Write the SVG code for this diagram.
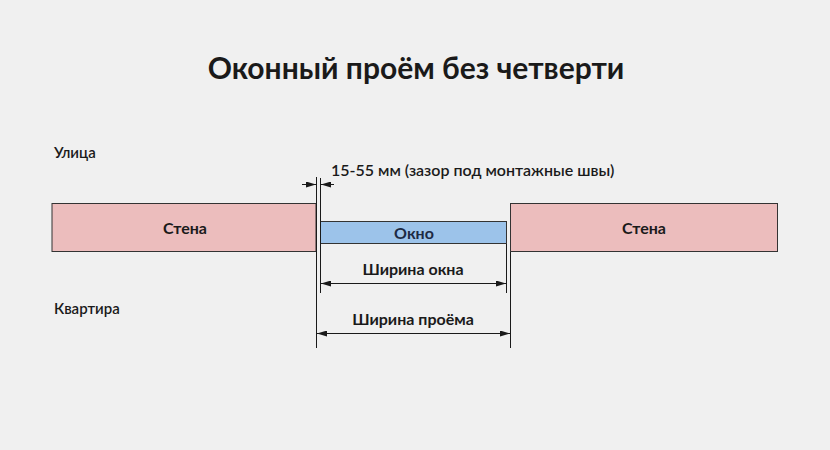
<svg xmlns="http://www.w3.org/2000/svg" width="830" height="450" viewBox="0 0 830 450">
<style>
text{font-family:Lato,"Noto Sans",sans-serif;fill:#1a1a1a}
.l{font-size:15px;font-weight:600}
.b{font-size:16px;font-weight:bold;text-anchor:middle}
.wall{fill:#ecbdbd;stroke:#333;stroke-width:1}
.ln{stroke:#1a1a1a;stroke-width:1;fill:none}
</style>
<defs>
<marker id="a" viewBox="0 0 10 6" refX="10" refY="3" markerWidth="10" markerHeight="6" markerUnits="userSpaceOnUse" orient="auto-start-reverse"><path d="M0,0L10,3L0,6z" fill="#1a1a1a"/></marker>
</defs>
<rect width="830" height="450" fill="#f0f0f0"/>
<text x="416" y="79" text-anchor="middle" style="font-size:30px;font-weight:bold">Оконный проём без четверти</text>
<text class="l" x="54" y="158">Улица</text>
<text class="l" x="54" y="314">Квартира</text>
<g id="wall-left"><rect class="wall" x="52" y="203.5" width="264" height="48"/><text class="b" x="185" y="234">Стена</text></g>
<g id="wall-right"><rect class="wall" x="510.5" y="203.5" width="267" height="48"/><text class="b" x="644" y="234">Стена</text></g>
<g id="window"><rect x="320.5" y="221.5" width="186" height="22" fill="#9cc3ea" stroke="#333"/><text class="b" x="414" y="239" style="fill:#1d2a44">Окно</text></g>
<g id="connectors">
<line class="ln" x1="316.5" y1="177" x2="316.5" y2="348"/>
<line class="ln" x1="320.5" y1="178" x2="320.5" y2="293"/>
<line class="ln" x1="506.5" y1="244" x2="506.5" y2="293"/>
<line class="ln" x1="510.5" y1="252" x2="510.5" y2="348"/>
<line class="ln" x1="302" y1="184.5" x2="316" y2="184.5" marker-end="url(#a)"/>
<line class="ln" x1="334" y1="184.5" x2="321" y2="184.5" marker-end="url(#a)"/>
<line class="ln" x1="321" y1="283.5" x2="506" y2="283.5" marker-start="url(#a)" marker-end="url(#a)"/>
<line class="ln" x1="317" y1="333.5" x2="510" y2="333.5" marker-start="url(#a)" marker-end="url(#a)"/>
</g>
<text class="l" x="331" y="176" style="font-size:16px">15-55 мм (зазор под монтажные швы)</text>
<text class="b" x="413" y="275">Ширина окна</text>
<text class="b" x="413" y="325">Ширина проёма</text>
</svg>
